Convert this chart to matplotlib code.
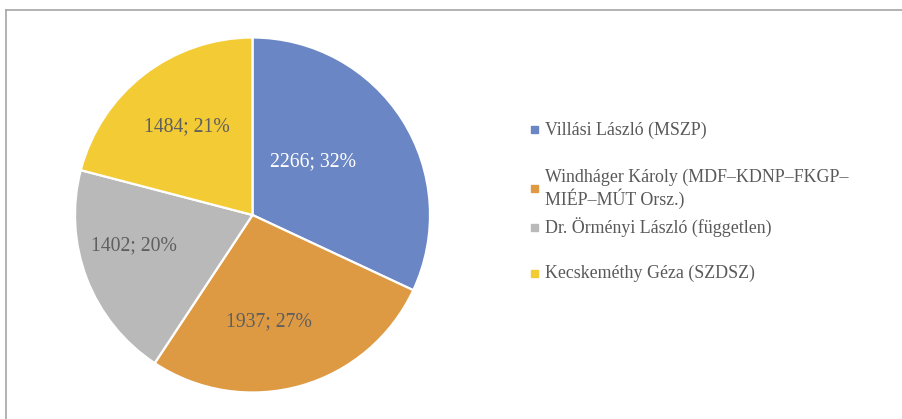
import matplotlib
matplotlib.use("Agg")
import matplotlib.pyplot as plt
from matplotlib.lines import Line2D
from matplotlib.patches import Rectangle

categories = ["Villási László (MSZP)",
              "Windháger Károly (MDF–KDNP–FKGP–\nMIÉP–MÚT Orsz.)",
              "Dr. Örményi László (független)",
              "Kecskeméthy Géza (SZDSZ)"]
values = [2266, 1937, 1402, 1484]
colors = ["#6A86C4", "#DE9A43", "#B9B9B9", "#F2CB35"]
label_colors = ["#FFFFFF", "#5F5F5F", "#5F5F5F", "#5F5F5F"]

W, H = 903, 419
fig = plt.figure(figsize=(W / 100, H / 100), dpi=100)
plt.rcParams['font.family'] = ['Liberation Serif', 'DejaVu Serif']

# border lines
fig.add_artist(Line2D([6 / W, 1], [1 - 10.5 / H, 1 - 10.5 / H], color="#A6A6A6", lw=1.2))
fig.add_artist(Line2D([6 / W, 6 / W], [0, 1 - 10.5 / H], color="#A6A6A6", lw=1.2))

cx, cy, r = 252.5, 215, 177.5
ax = fig.add_axes([(cx - r) / W, 1 - (cy + r) / H, 2 * r / W, 2 * r / H])
total = sum(values)
wedges, _ = ax.pie(values, colors=colors, startangle=90, counterclock=False,
                   radius=1, wedgeprops=dict(edgecolor="white", linewidth=1.6))
ax.set_xlim(-1, 1)
ax.set_ylim(-1, 1)
ax.set_aspect("equal")
ax.axis("off")

label_pos = [(0.34, 0.30), (0.09, -0.60), (-0.67, -0.175), (-0.37, 0.50)]
for v, (px, py), lc in zip(values, label_pos, label_colors):
    ax.text(px, py, f"{v}; {round(100 * v / total)}%", ha="center", va="center",
            fontsize=14.2, color=lc)

# legend
leg_y = [130, 189, 227, 273]
for cat, col, y in zip(categories, colors, leg_y):
    fig.add_artist(Rectangle(((531) / W, 1 - (y + 3.5) / H), 7 / W, 7 / H,
                             color=col, transform=fig.transFigure))
    fig.text(545 / W, 1 - y / H, cat, ha="left", va="center", fontsize=12.9,
             color="#595959", linespacing=1.15)

fig.savefig("out.png", dpi=100)
